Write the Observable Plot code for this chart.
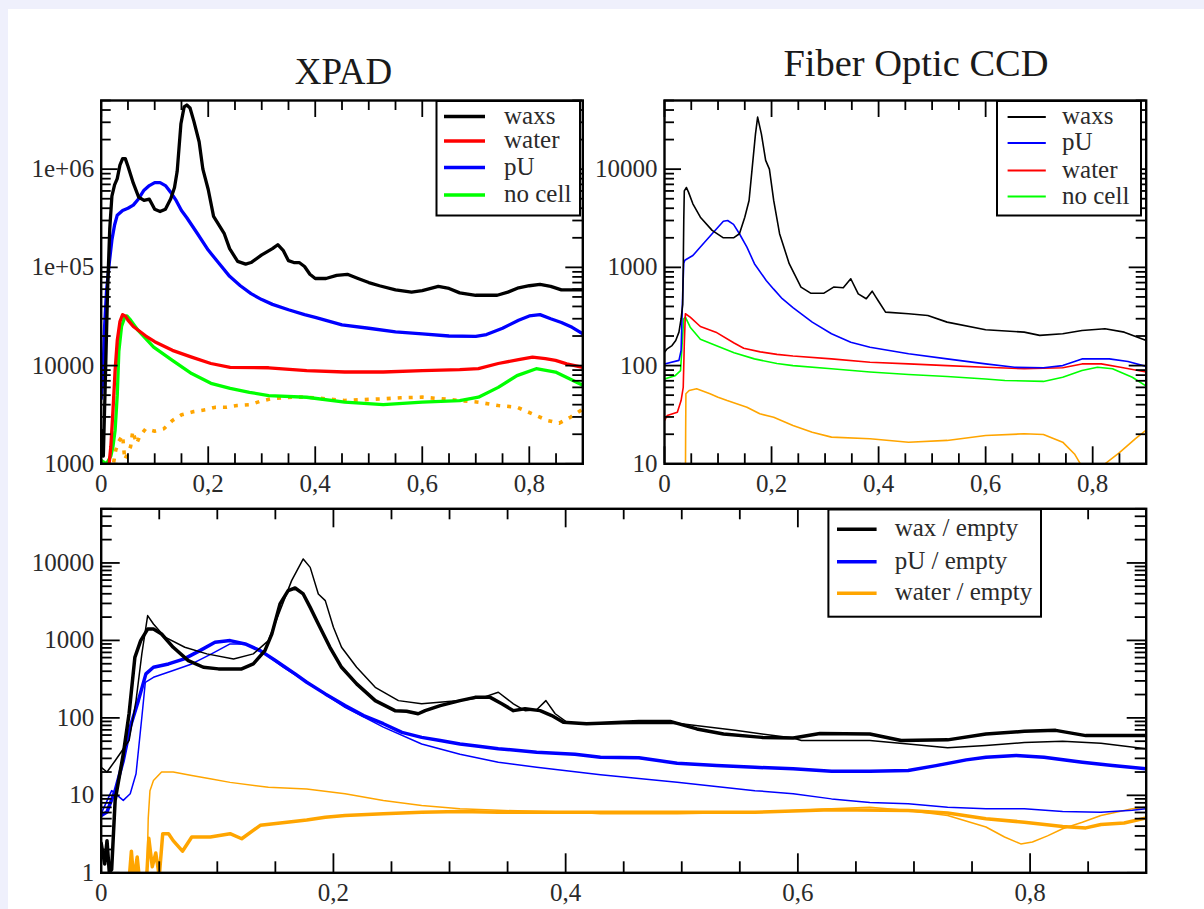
<!DOCTYPE html>
<html><head><meta charset="utf-8">
<script src="https://cdn.jsdelivr.net/npm/d3@7"></script>
<script src="https://cdn.jsdelivr.net/npm/@observablehq/plot@0.6"></script>
<style>
html,body{margin:0;padding:0;}
body{width:1204px;height:909px;background:#eff0fc;position:relative;overflow:hidden;font-family:'Liberation Serif','Times New Roman',serif;}
#panel{position:absolute;left:8px;top:9px;width:1196px;height:900px;background:#fff;}
.plot{position:absolute;}
#overlay{position:absolute;left:0;top:0;}
</style></head><body>
<div id="panel"></div>
<div id="tl" class="plot" style="left:0px;top:90px"></div>
<div id="tr" class="plot" style="left:600px;top:90px"></div>
<div id="bt" class="plot" style="left:0px;top:498px"></div>
<svg id="overlay" width="1204" height="909"></svg>
<script>
// ---------- DATA ----------
const titles = ["XPAD", "Fiber Optic CCD"];
const xTicks = [0, 0.2, 0.4, 0.6, 0.8];
const xMinorTicks = [0.05,0.1,0.15,0.25,0.3,0.35,0.45,0.5,0.55,0.65,0.7,0.75,0.85];
const tlYTicks = [1000, 10000, 1e5, 1e6];
const tlYLabels = ["1000", "10000", "1e+05", "1e+06"];
const trYTicks = [10, 100, 1000, 10000];
const trYLabels = ["10", "100", "1000", "10000"];
const btYTicks = [1, 10, 100, 1000, 10000];
const btYLabels = ["1", "10", "100", "1000", "10000"];

// XPAD (top left)
const xpadWaxs = [[0,2200],[0.004,1200],[0.008,8000],[0.012,6e4],[0.016,2.5e5],[0.02,5.3e5],[0.025,6.9e5],[0.03,8.0e5],[0.035,1.1e6],[0.04,1.28e6],[0.045,1.28e6],[0.05,1.07e6],[0.06,7.2e5],[0.07,5.2e5],[0.08,4.8e5],[0.09,4.95e5],[0.1,3.9e5],[0.11,3.7e5],[0.12,3.9e5],[0.13,5.0e5],[0.137,6.5e5],[0.142,9.5e5],[0.149,2.9e6],[0.155,4.3e6],[0.16,4.5e6],[0.166,4.2e6],[0.173,3.1e6],[0.183,1.9e6],[0.19,1.0e6],[0.2,6.2e5],[0.21,3.3e5],[0.23,2.2e5],[0.24,1.55e5],[0.255,1.15e5],[0.27,1.08e5],[0.28,1.12e5],[0.3,1.34e5],[0.32,1.55e5],[0.33,1.7e5],[0.34,1.49e5],[0.35,1.17e5],[0.36,1.12e5],[0.37,1.12e5],[0.38,1.02e5],[0.39,8.5e4],[0.4,7.7e4],[0.42,7.7e4],[0.44,8.3e4],[0.46,8.5e4],[0.48,7.7e4],[0.5,7.0e4],[0.52,6.5e4],[0.55,5.9e4],[0.58,5.6e4],[0.6,5.8e4],[0.63,6.4e4],[0.65,6.1e4],[0.67,5.5e4],[0.7,5.2e4],[0.74,5.2e4],[0.76,5.6e4],[0.78,6.2e4],[0.8,6.5e4],[0.82,6.7e4],[0.84,6.4e4],[0.86,5.9e4],[0.9,5.9e4]];
const xpadPU = [[0,4600],[0.003,7000],[0.006,2.3e4],[0.01,5.8e4],[0.015,1.1e5],[0.02,1.9e5],[0.025,2.7e5],[0.03,3.4e5],[0.04,3.8e5],[0.05,4.0e5],[0.06,4.3e5],[0.07,5.0e5],[0.08,6.1e5],[0.09,6.8e5],[0.1,7.3e5],[0.11,7.3e5],[0.12,6.8e5],[0.13,5.8e5],[0.14,4.8e5],[0.15,3.8e5],[0.16,3.2e5],[0.18,2.2e5],[0.2,1.5e5],[0.22,1.1e5],[0.24,8.1e4],[0.26,6.5e4],[0.28,5.4e4],[0.3,4.7e4],[0.32,4.2e4],[0.35,3.7e4],[0.38,3.3e4],[0.4,3.1e4],[0.45,2.6e4],[0.5,2.4e4],[0.55,2.2e4],[0.6,2.1e4],[0.65,2.0e4],[0.7,1.98e4],[0.72,2.07e4],[0.75,2.4e4],[0.78,2.9e4],[0.8,3.2e4],[0.82,3.3e4],[0.84,3.0e4],[0.86,2.75e4],[0.88,2.45e4],[0.9,2.1e4]];
const xpadWater = [[0.012,700],[0.018,1500],[0.022,3500],[0.026,9000],[0.03,1.8e4],[0.035,2.8e4],[0.04,3.3e4],[0.045,3.2e4],[0.05,2.9e4],[0.06,2.5e4],[0.0835,2.0e4],[0.1,1.75e4],[0.133,1.43e4],[0.169,1.22e4],[0.205,1.05e4],[0.241,9.6e3],[0.313,9.5e3],[0.384,8.9e3],[0.455,8.6e3],[0.527,8.6e3],[0.6,8.9e3],[0.67,9.1e3],[0.705,9.3e3],[0.742,1.05e4],[0.78,1.15e4],[0.806,1.22e4],[0.83,1.18e4],[0.849,1.13e4],[0.87,1.04e4],[0.9,9.6e3]];
const xpadNoCell = [[0,1080],[0.01,1000],[0.018,1200],[0.022,1500],[0.026,2200],[0.03,5000],[0.033,1.4e4],[0.038,2.5e4],[0.044,3.1e4],[0.048,3.2e4],[0.055,2.9e4],[0.069,2.28e4],[0.098,1.54e4],[0.133,1.13e4],[0.169,8.3e3],[0.205,6.6e3],[0.241,5.85e3],[0.277,5.35e3],[0.313,4.95e3],[0.384,4.76e3],[0.455,4.24e3],[0.527,4.0e3],[0.6,4.24e3],[0.67,4.4e3],[0.705,4.76e3],[0.742,6.0e3],[0.777,7.9e3],[0.813,9.3e3],[0.849,8.6e3],[0.9,6.3e3]];
const xpadRatio = [[0.02,800],[0.027,1370],[0.033,1700],[0.04,1950],[0.044,1100],[0.05,1300],[0.055,1500],[0.059,2150],[0.066,1600],[0.072,1900],[0.083,2270],[0.1,2150],[0.117,2270],[0.133,2760],[0.15,3150],[0.173,3400],[0.195,3550],[0.214,3770],[0.234,3770],[0.254,3920],[0.278,4000],[0.298,4340],[0.318,4590],[0.338,4700],[0.36,4770],[0.384,4770],[0.42,4590],[0.455,4410],[0.49,4500],[0.527,4590],[0.56,4700],[0.6,4770],[0.635,4600],[0.67,4410],[0.705,4240],[0.742,3920],[0.777,3770],[0.813,3100],[0.834,2760],[0.856,2590],[0.877,2980],[0.9,3600]];

// Fiber optic CCD (top right)
const ccdWaxs = [[0,137],[0.005,148],[0.014,160],[0.021,180],[0.027,219],[0.031,300],[0.034,420],[0.035,1000],[0.036,3000],[0.037,6000],[0.041,6500],[0.045,5800],[0.053,4440],[0.067,3240],[0.089,2380],[0.11,2000],[0.129,2000],[0.14,2200],[0.15,3240],[0.158,4800],[0.164,10500],[0.17,22900],[0.174,33900],[0.181,22900],[0.189,12300],[0.196,10000],[0.204,4800],[0.215,2200],[0.233,1090],[0.255,630],[0.273,546],[0.298,546],[0.316,630],[0.334,620],[0.348,766],[0.362,538],[0.377,479],[0.388,572],[0.395,498],[0.399,460],[0.413,350],[0.456,337],[0.492,324],[0.528,277],[0.6,232],[0.672,219],[0.701,203],[0.744,211],[0.78,228],[0.823,237],[0.859,219],[0.9,180]];
const ccdPU = [[0,104],[0.027,113],[0.031,143],[0.034,542],[0.036,1100],[0.038,1180],[0.053,1320],[0.067,1610],[0.089,2200],[0.11,2950],[0.118,3000],[0.129,2740],[0.14,2200],[0.154,1610],[0.168,1090],[0.19,736],[0.204,600],[0.22,480],[0.24,390],[0.276,277],[0.312,211],[0.348,173],[0.384,154],[0.456,132],[0.528,117],[0.6,104],[0.654,96],[0.708,95],[0.744,100],[0.78,117],[0.831,117],[0.866,110],[0.9,98]];
const ccdWater = [[0,27.6],[0.005,31],[0.024,33.5],[0.031,44],[0.035,60],[0.037,167],[0.039,337],[0.048,311],[0.067,250],[0.096,219],[0.13,170],[0.148,150],[0.179,138],[0.21,130],[0.24,125],[0.312,117],[0.384,108],[0.456,104],[0.528,100],[0.6,96],[0.672,93],[0.744,95],[0.78,104],[0.816,104],[0.852,96],[0.9,86]];
const ccdNoCell = [[0,73],[0.02,79],[0.03,89],[0.033,167],[0.036,300],[0.039,311],[0.048,246],[0.067,185],[0.096,160],[0.13,135],[0.168,117],[0.21,105],[0.24,100],[0.312,93],[0.384,86],[0.456,81],[0.528,77.5],[0.6,73],[0.636,70.5],[0.708,69],[0.744,76],[0.78,89],[0.809,96],[0.837,93],[0.874,76],[0.9,62]];
const ccdRatio = [[0.039,5],[0.0395,20],[0.040,51.6],[0.046,55.8],[0.06,58],[0.085,51.6],[0.1,47.7],[0.117,44],[0.154,37.7],[0.178,32.3],[0.204,29.8],[0.24,24.5],[0.276,21],[0.312,18.7],[0.384,18],[0.456,16.6],[0.528,17.3],[0.6,19.4],[0.672,20.2],[0.708,19.9],[0.744,16.6],[0.766,12.6],[0.777,10],[0.79,7],[0.81,7],[0.823,10],[0.85,13],[0.88,18],[0.9,22]];

// Ratios (bottom): thick = XPAD, thin = CCD
const waxEmptyXpad = [[0,2.4],[0.003,1.3],[0.005,2.6],[0.007,1.0],[0.009,1.1],[0.012,8.6],[0.019,34],[0.024,113],[0.029,605],[0.034,994],[0.04,1400],[0.045,1400],[0.052,1210],[0.062,815],[0.075,549],[0.088,450],[0.101,429],[0.121,429],[0.131,497],[0.141,738],[0.147,1213],[0.154,2960],[0.161,4400],[0.167,4750],[0.174,3980],[0.18,2670],[0.187,1633],[0.197,815],[0.207,450],[0.22,275],[0.236,167],[0.253,124],[0.263,122],[0.273,113],[0.279,124],[0.292,144],[0.309,167],[0.322,184],[0.335,184],[0.345,152],[0.355,124],[0.365,131],[0.378,124],[0.388,107],[0.398,88],[0.418,84],[0.43,85],[0.463,90],[0.49,90],[0.513,72],[0.536,62],[0.569,56],[0.596,55],[0.619,63],[0.662,62],[0.689,51],[0.729,52],[0.762,62],[0.795,67],[0.822,69],[0.848,59],[0.9,59]];
const waxEmptyCcd = [[0,23],[0.005,20],[0.012,28],[0.024,51],[0.03,167],[0.035,670],[0.04,2090],[0.045,1630],[0.055,1100],[0.072,815],[0.091,670],[0.114,577],[0.131,670],[0.144,994],[0.154,2425],[0.164,5910],[0.174,11270],[0.18,8770],[0.187,3980],[0.193,3265],[0.2,1475],[0.207,815],[0.22,450],[0.236,248],[0.256,167],[0.276,152],[0.309,167],[0.329,184],[0.342,214],[0.355,152],[0.365,124],[0.375,127],[0.383,167],[0.391,113],[0.401,88],[0.418,84],[0.43,84],[0.496,85],[0.546,69],[0.596,55],[0.603,51],[0.662,51],[0.695,46],[0.729,41],[0.762,44],[0.795,48],[0.828,50],[0.861,47],[0.9,40]];
const pUEmptyXpad = [[0,5.5],[0.005,6.1],[0.012,11.5],[0.019,28],[0.025,76],[0.032,167],[0.0385,370],[0.045,450],[0.058,497],[0.0715,577],[0.085,738],[0.098,945],[0.111,994],[0.124,900],[0.137,738],[0.15,549],[0.167,370],[0.177,288],[0.193,204],[0.21,144],[0.226,107],[0.243,84],[0.259,65],[0.276,56],[0.292,51],[0.309,46],[0.325,43],[0.342,40],[0.375,36],[0.408,34],[0.43,31],[0.463,30.5],[0.496,26],[0.53,24.2],[0.563,23],[0.596,22],[0.629,20.5],[0.662,20.5],[0.695,20.9],[0.719,24.2],[0.745,28.7],[0.762,31],[0.788,32.7],[0.812,31],[0.845,26.7],[0.871,24.2],[0.9,22]];
const pUEmptyCcd = [[0,5.8],[0.009,11.5],[0.019,8.6],[0.025,10.5],[0.03,19],[0.035,102],[0.038,288],[0.045,334],[0.062,408],[0.078,497],[0.095,670],[0.111,900],[0.124,900],[0.141,670],[0.157,450],[0.177,288],[0.21,137],[0.243,76],[0.276,46],[0.309,34],[0.342,26.7],[0.375,23],[0.43,18.5],[0.496,14.8],[0.563,11.5],[0.596,10.5],[0.629,9],[0.662,8.1],[0.695,7.8],[0.729,7],[0.762,6.7],[0.795,6.7],[0.828,6.2],[0.861,6.05],[0.888,6.4],[0.9,6.7]];
const waterEmptyXpad = [[0.024,0.8],[0.026,1.9],[0.028,0.8],[0.031,1.6],[0.033,0.8],[0.039,0.8],[0.041,2.8],[0.044,1.2],[0.047,1.8],[0.05,0.9],[0.053,3.2],[0.058,3.2],[0.062,2.6],[0.07,1.9],[0.078,2.9],[0.094,2.9],[0.111,3.2],[0.121,2.75],[0.137,4.1],[0.16,4.5],[0.177,4.8],[0.193,5.2],[0.21,5.5],[0.243,5.8],[0.276,6.05],[0.309,6.2],[0.342,6.05],[0.408,6.05],[0.496,6.05],[0.563,6.05],[0.629,6.5],[0.695,6.35],[0.729,5.9],[0.762,5.0],[0.795,4.5],[0.828,3.96],[0.848,3.8],[0.861,4.2],[0.881,4.4],[0.9,5.1]];
const waterEmptyCcd = [[0.039,0.5],[0.0405,5],[0.042,11.5],[0.045,15.5],[0.052,20],[0.062,20],[0.078,18],[0.095,16.3],[0.111,14.7],[0.144,12.7],[0.177,12.1],[0.21,10.5],[0.243,8.6],[0.276,7.4],[0.309,6.7],[0.342,6.4],[0.408,6.05],[0.43,5.8],[0.496,5.8],[0.563,6.05],[0.629,6.7],[0.662,7.0],[0.695,6.35],[0.729,5.5],[0.762,3.9],[0.778,2.9],[0.792,2.36],[0.802,2.5],[0.815,3.0],[0.828,3.7],[0.845,4.5],[0.861,5.5],[0.888,6.7],[0.9,7.0]];

const legendTL = ["waxs", "water", "pU", "no cell"];
const legendTR = ["waxs", "pU", "water", "no cell"];
const legendBT = ["wax / empty", "pU / empty", "water / empty"];

// ---------- DRAWING ----------
const FONT = "'Liberation Serif','Times New Roman',serif";
const C = {black:"#000000", red:"#ff0000", blue:"#0000ff", green:"#00ff00", orange:"#ffa500"};

function decadeMinor([lo, hi]) {
  const out = [];
  for (let e = Math.floor(Math.log10(lo)); e <= Math.ceil(Math.log10(hi)); e++)
    for (let m = 1; m < 10; m++) { const v = m * Math.pow(10, e); if (v >= lo * 0.999 && v <= hi * 1.001) out.push(v); }
  return out;
}

function panel({width, height, mt, mr, mb, ml, yDomain, yTicks, yLabels, series, major, minor}) {
  const fw = width - ml - mr, fh = height - mt - mb;
  const yMinor = decadeMinor(yDomain).filter(v => !yTicks.includes(v));
  const tk = {stroke: "#000", strokeWidth: 1.8};
  return Plot.plot({
    width, height, marginTop: mt, marginRight: mr, marginBottom: mb, marginLeft: ml,
    style: {background: "transparent", overflow: "visible", fontFamily: FONT, fontSize: "25px", color: "#2a2a2a"},
    x: {domain: [0, 0.9]},
    y: {type: "log", domain: yDomain},
    marks: [
      ...series.map(s => Plot.line(s.data, {x: d => d[0], y: d => d[1], stroke: s.color, strokeWidth: s.w,
        strokeDasharray: s.dash, strokeLinecap: s.dash ? "butt" : "round", strokeLinejoin: "round", clip: true})),
      Plot.tickX(xMinorTicks, {x: d => d, insetTop: fh - minor, ...tk}),
      Plot.tickX(xMinorTicks, {x: d => d, insetBottom: fh - minor, ...tk}),
      Plot.tickX(xTicks, {x: d => d, insetTop: fh - major, ...tk}),
      Plot.tickX(xTicks, {x: d => d, insetBottom: fh - major, ...tk}),
      Plot.tickY(yMinor, {y: d => d, insetRight: fw - minor, ...tk}),
      Plot.tickY(yMinor, {y: d => d, insetLeft: fw - minor, ...tk}),
      Plot.tickY(yTicks, {y: d => d, insetRight: fw - major, ...tk}),
      Plot.tickY(yTicks, {y: d => d, insetLeft: fw - major, ...tk}),
      Plot.frame({stroke: "#000", strokeWidth: 2.4}),
      Plot.axisX(xTicks, {tickSize: 0, tickPadding: 10, label: null, fontSize: 25, fontFamily: FONT,
        tickFormat: d => d === 0 ? "0" : String(d).replace(".", ",")}),
      Plot.axisY(yTicks, {tickSize: 0, tickPadding: 7, label: null, fontSize: 25, fontFamily: FONT,
        tickFormat: d => yLabels[yTicks.indexOf(d)]})
    ]
  });
}

document.getElementById("tl").append(panel({
  width: 600, height: 408, mt: 10, mr: 17.7, mb: 34.7, ml: 100.7,
  yDomain: [1000, 5e6], yTicks: tlYTicks, yLabels: tlYLabels, major: 17, minor: 10,
  series: [
    {data: xpadRatio, color: C.orange, w: 3.6, dash: "4,7"},
    {data: xpadNoCell, color: C.green, w: 3.3},
    {data: xpadWater, color: C.red, w: 3.3},
    {data: xpadPU, color: C.blue, w: 3.3},
    {data: xpadWaxs, color: C.black, w: 3.3}
  ]
}));

document.getElementById("tr").append(panel({
  width: 604, height: 408, mt: 10, mr: 58.3, mb: 34.7, ml: 64,
  yDomain: [10, 5e4], yTicks: trYTicks, yLabels: trYLabels, major: 17, minor: 10,
  series: [
    {data: ccdRatio, color: C.orange, w: 1.6},
    {data: ccdNoCell, color: C.green, w: 1.6},
    {data: ccdWater, color: C.red, w: 1.6},
    {data: ccdPU, color: C.blue, w: 1.6},
    {data: ccdWaxs, color: C.black, w: 1.6}
  ]
}));

document.getElementById("bt").append(panel({
  width: 1204, height: 411, mt: 10.3, mr: 58.3, mb: 36.7, ml: 100.7,
  yDomain: [1, 5e4], yTicks: btYTicks, yLabels: btYLabels, major: 19, minor: 11,
  series: [
    {data: waterEmptyCcd, color: C.orange, w: 1.5},
    {data: waterEmptyXpad, color: C.orange, w: 3.5},
    {data: pUEmptyCcd, color: C.blue, w: 1.5},
    {data: pUEmptyXpad, color: C.blue, w: 3.5},
    {data: waxEmptyCcd, color: C.black, w: 1.5},
    {data: waxEmptyXpad, color: C.black, w: 3.5}
  ]
}));

// titles and legends
const ov = d3.select("#overlay").attr("font-family", FONT);
ov.append("text").attr("x", 343.5).attr("y", 84).attr("text-anchor", "middle").attr("font-size", 37).attr("fill", "#1a1a1a").text(titles[0]);
ov.append("text").attr("x", 916).attr("y", 76).attr("text-anchor", "middle").attr("font-size", 38.5).attr("fill", "#1a1a1a").text(titles[1]);

function legend({x0, x1, y0, y1, lx0, lx1, tx, rows, labels, colors, w}) {
  ov.append("rect").attr("x", x0).attr("y", y0).attr("width", x1 - x0).attr("height", y1 - y0)
    .attr("fill", "#fff").attr("stroke", "#000").attr("stroke-width", 2);
  labels.forEach((lab, i) => {
    ov.append("line").attr("x1", lx0).attr("x2", lx1).attr("y1", rows[i]).attr("y2", rows[i])
      .attr("stroke", colors[i]).attr("stroke-width", w);
    ov.append("text").attr("x", tx).attr("y", rows[i] + 7).attr("font-size", 25).attr("fill", "#2a2a2a").text(lab);
  });
}
legend({x0: 436.5, x1: 580, y0: 101, y1: 215.5, lx0: 444, lx1: 485, tx: 504,
  rows: [116.5, 141, 167.5, 195], labels: legendTL, colors: [C.black, C.red, C.blue, C.green], w: 3.5});
legend({x0: 997, x1: 1141, y0: 101, y1: 215.5, lx0: 1007.6, lx1: 1045.8, tx: 1062,
  rows: [117, 143, 170.5, 196.5], labels: legendTR, colors: [C.black, C.blue, C.red, C.green], w: 1.8});
legend({x0: 828.4, x1: 1041, y0: 509.5, y1: 616.7, lx0: 837, lx1: 876.6, tx: 894.7,
  rows: [529.3, 561.7, 593.3], labels: legendBT, colors: [C.black, C.blue, C.orange], w: 3.5});
</script>
</body></html>
